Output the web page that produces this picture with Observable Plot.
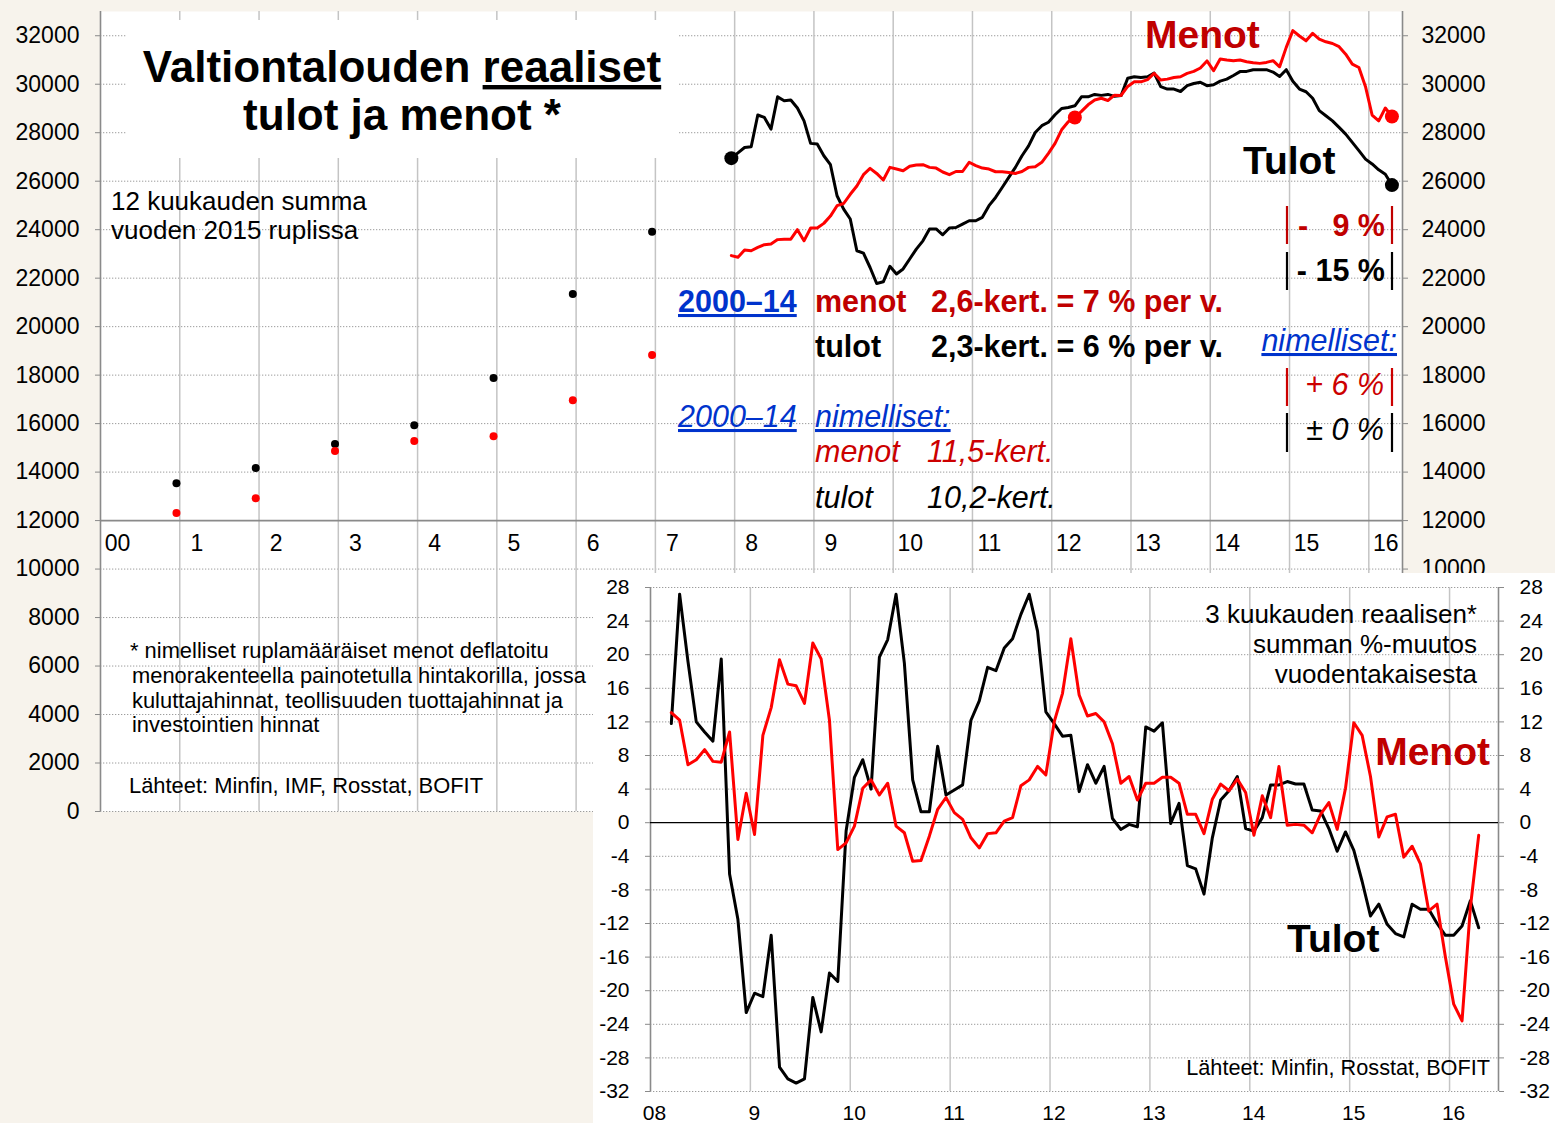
<!DOCTYPE html>
<html><head><meta charset="utf-8">
<script src="https://cdn.jsdelivr.net/npm/d3@7"></script>
<script src="https://cdn.jsdelivr.net/npm/@observablehq/plot@0.6"></script>
<style>
html,body{margin:0;padding:0;background:#F7F3EC;}
#wrap{position:relative;width:1555px;height:1123px;overflow:hidden;background:#F7F3EC;}
#main{position:absolute;left:0;top:0;}
#titlebox{position:absolute;left:127px;top:20px;width:551px;height:138px;background:#fff;}
#inset{position:absolute;left:593px;top:573px;width:962px;height:550px;background:#fff;}
#overlay{position:absolute;left:0;top:0;pointer-events:none;}
</style></head><body>
<div id="wrap"><div id="main"></div><div id="titlebox"></div><div id="inset"></div><svg id="overlay" width="1555" height="1123"></svg></div>
<script>
// ---------- DATA ----------
// Annual 12-month sums (December), 2000–2006, billions of 2015 roubles
const annualYears = [2000, 2001, 2002, 2003, 2004, 2005, 2006];
const annualTulot = [13545, 14166, 15159, 15933, 17879, 21344, 23911];
const annualMenot = [12318, 12923, 14869, 15283, 15478, 16969, 18832];

// Monthly 12-month sums, Dec 2007 .. Apr 2016
const monthlyStartYear = 2007, monthlyStartMonth = 12;
const monthlyTulot = [
  26950, 27170, 27390, 27420, 28730, 28630, 28150, 29480, 29320, 29350,
  29020, 28490, 27560, 27530, 27050, 26680, 25400, 24850, 24440, 23130,
  23030, 22440, 21780, 21850, 22490, 22170, 22380, 22790, 23200, 23540,
  24030, 24030, 23790, 24070, 24090, 24230, 24370, 24370, 24510, 24990,
  25330, 25740, 26160, 26570, 27050, 27460, 28010, 28290, 28430, 28740,
  29000, 29040, 29110, 29480, 29480, 29580, 29540, 29580, 29500, 29530,
  30250, 30310, 30280, 30310, 30460, 29900, 29800, 29800, 29700, 29940,
  30030, 30080, 29940, 29980, 30130, 30210, 30360, 30520, 30530, 30600,
  30600, 30600, 30500, 30320, 30600, 30120, 29800, 29690, 29420, 28910,
  28700, 28490, 28220, 27940, 27600, 27260, 26910, 26710, 26470, 26290,
  25840];
const monthlyMenot = [
  22930, 22860, 23160, 23130, 23270, 23380, 23410, 23590, 23610, 23610,
  24000, 23540, 24070, 24070, 24260, 24560, 24990, 25080, 25460, 25800,
  26270, 26530, 26320, 26050, 26570, 26500, 26430, 26620, 26670, 26680,
  26570, 26540, 26380, 26270, 26400, 26400, 26780, 26640, 26540, 26500,
  26390, 26390, 26360, 26320, 26400, 26570, 26600, 26780, 27150, 27560,
  28120, 28450, 28630, 28880, 29150, 29350, 29420, 29330, 29550, 29540,
  29910, 30100, 30100, 30190, 30450, 30170, 30210, 30280, 30310, 30450,
  30530, 30670, 30960, 30560, 31040, 31000, 30970, 31000, 30930, 30890,
  30860, 30900, 30970, 30720, 31520, 32210, 31990, 31790, 32100, 31860,
  31750, 31680, 31550, 31240, 30830, 30690, 29900, 28730, 28490, 29020,
  28670];
// highlighted points (indices into monthly arrays)
const tulotMarked = [0, 100];
const menotMarked = [52, 100];

// Inset: 3-month real sum, % change y/y, Mar 2008 .. Apr 2016
const changeStartYear = 2008, changeStartMonth = 3;
const changeTulot = [
  11.8, 27.2, 19.2, 12.0, 10.8, 9.7, 19.5, -6.1, -11.5, -22.6,
  -20.3, -20.7, -13.4, -29.1, -30.5, -31.0, -30.5, -20.8, -24.9, -17.9,
  -18.9, -1.0, 5.4, 7.5, 4.0, 19.7, 21.8, 27.2, 19.0, 5.1,
  1.3, 1.3, 9.1, 3.3, 3.9, 4.5, 12.2, 14.5, 18.5, 18.1,
  20.8, 21.9, 24.8, 27.2, 22.8, 13.2, 11.8, 10.3, 10.4, 3.7,
  6.9, 4.7, 6.7, 0.5, -0.8, -0.2, -0.5, 11.4, 10.9, 11.9,
  -0.1, 2.3, -5.1, -5.5, -8.5, -1.8, 2.7, 3.8, 5.5, -0.7,
  -1.0, 0.6, 4.5, 4.5, 4.9, 4.6, 4.6, 1.5, 1.4, -0.7,
  -3.4, -1.1, -3.3, -7.0, -11.1, -9.7, -12.1, -13.2, -13.6, -9.7,
  -10.3, -10.3, -12.0, -13.4, -13.4, -12.3, -9.3, -12.5];
const changeMenot = [
  13.1, 12.2, 6.9, 7.5, 8.7, 7.3, 7.2, 10.8, -2.0, 3.5,
  -1.4, 10.4, 13.7, 19.4, 16.5, 16.3, 14.2, 21.4, 19.5, 12.2,
  -3.2, -2.4, -0.4, 4.1, 5.1, 3.3, 4.7, -0.4, -1.2, -4.6,
  -4.5, -1.6, 1.6, 3.0, 1.2, 0.4, -1.8, -3.0, -1.3, -1.2,
  0.2, 0.6, 4.4, 5.1, 6.7, 5.7, 12.0, 15.4, 21.9, 15.2,
  12.7, 13.0, 12.0, 9.4, 4.7, 5.5, 2.7, 4.7, 4.7, 5.4,
  5.4, 4.7, 1.0, 1.0, -1.3, 2.8, 4.6, 3.8, 5.2, 3.6,
  -1.5, 3.2, 0.6, 6.7, -0.3, -0.2, -0.3, -1.2, 1.0, 2.4,
  -0.8, 4.1, 11.9, 10.4, 5.5, -1.7, 0.7, 1.0, -4.1, -2.8,
  -4.9, -10.5, -9.7, -16.0, -21.6, -23.6, -10.1, -1.5];

// Tick labels
const mainYears = [2000,2001,2002,2003,2004,2005,2006,2007,2008,2009,2010,2011,2012,2013,2014,2015,2016];
const mainYearLabels = ["00","1","2","3","4","5","6","7","8","9","10","11","12","13","14","15","16"];
const mainYTicksLeft = [0,2000,4000,6000,8000,10000,12000,14000,16000,18000,20000,22000,24000,26000,28000,30000,32000];
const mainYTicksRight = [10000,12000,14000,16000,18000,20000,22000,24000,26000,28000,30000,32000];
const insetYears = [2008,2009,2010,2011,2012,2013,2014,2015,2016];
const insetYearLabels = ["08","9","10","11","12","13","14","15","16"];
const insetYTicks = [-32,-28,-24,-20,-16,-12,-8,-4,0,4,8,12,16,20,24,28];

// ---------- BUILD ----------
const FONT = '"Liberation Sans", Arial, Helvetica, sans-serif';
const RED = "#FF0000", DARKRED = "#C00000", BLUE = "#0033CC";
const GRIDV = "#C4C4C4", GRIDH = "#9C9C9C", AXIS = "#8A8A8A";

const monthT = (y0, m0, i) => y0 + (m0 - 0.5 + i) / 12;
const annualT = y => y + 11.5 / 12;

const tulotSeries = monthlyTulot.map((v, i) => ({t: monthT(monthlyStartYear, monthlyStartMonth, i), v}));
const menotSeries = monthlyMenot.map((v, i) => ({t: monthT(monthlyStartYear, monthlyStartMonth, i), v}));
const annualT_ = annualYears.map((y, i) => ({t: annualT(y), v: annualTulot[i]}));
const annualM_ = annualYears.map((y, i) => ({t: annualT(y), v: annualMenot[i]}));
const mainXLab = mainYears.map((y, i) => ({t: y, label: mainYearLabels[i], v: 12000}));
const X_END_MAIN = 2016.425;

const main = Plot.plot({
  width: 1555, height: 830,
  marginLeft: 100, marginRight: 153, marginTop: 11, marginBottom: 19,
  x: {domain: [2000, X_END_MAIN], axis: null},
  y: {domain: [0, 33000], axis: null},
  style: {fontFamily: FONT, fontSize: "23px", background: "transparent", color: "black", overflow: "visible"},
  marks: [
    Plot.frame({fill: "white", stroke: "none"}),
    Plot.ruleY(mainYTicksLeft.filter(d => d !== 12000), {stroke: GRIDH, strokeWidth: 1, strokeDasharray: "1.3,1.7"}),
    Plot.ruleX(mainYears.slice(1), {stroke: GRIDV, strokeWidth: 1.5}),
    Plot.ruleY([12000], {stroke: AXIS, strokeWidth: 1.6}),
    Plot.ruleX([2000, X_END_MAIN], {stroke: AXIS, strokeWidth: 1.6}),
    Plot.axisY({anchor: "left", label: null, ticks: mainYTicksLeft, tickSize: 5, tickPadding: 16, tickFormat: d => String(d), stroke: AXIS, fontSize: 23}),
    Plot.axisY({anchor: "right", label: null, ticks: mainYTicksRight, tickSize: 5, tickPadding: 14, tickFormat: d => String(d), stroke: AXIS, fontSize: 23}),
    Plot.text(mainXLab, {x: "t", y: "v", text: "label", dx: 17, dy: 30, lineAnchor: "bottom", fontSize: 23, fill: "black"}),
    Plot.dot(annualT_, {x: "t", y: "v", r: 4, fill: "black"}),
    Plot.dot(annualM_, {x: "t", y: "v", r: 4, fill: RED}),
    Plot.line(tulotSeries, {x: "t", y: "v", stroke: "black", strokeWidth: 3, strokeLinejoin: "round"}),
    Plot.line(menotSeries, {x: "t", y: "v", stroke: RED, strokeWidth: 3, strokeLinejoin: "round"}),
    Plot.dot(tulotMarked.map(i => tulotSeries[i]), {x: "t", y: "v", r: 7, fill: "black"}),
    Plot.dot(menotMarked.map(i => menotSeries[i]), {x: "t", y: "v", r: 7, fill: RED})
  ]
});
document.getElementById("main").appendChild(main);

const chT = changeTulot.map((v, i) => ({t: monthT(changeStartYear, changeStartMonth, i), v}));
const chM = changeMenot.map((v, i) => ({t: monthT(changeStartYear, changeStartMonth, i), v}));
const X_END_INSET = 2016.49;

const inset = Plot.plot({
  width: 962, height: 550,
  marginLeft: 57, marginRight: 57, marginTop: 14, marginBottom: 32,
  x: {domain: [2008, X_END_INSET], axis: null},
  y: {domain: [-32, 28], axis: null},
  style: {fontFamily: FONT, fontSize: "21px", background: "white", color: "black", overflow: "visible"},
  marks: [
    Plot.ruleY(insetYTicks.filter(d => d !== 0), {stroke: GRIDH, strokeWidth: 1, strokeDasharray: "1.3,1.7"}),
    Plot.ruleX(insetYears.slice(1), {stroke: GRIDV, strokeWidth: 1.5}),
    Plot.ruleX([2008, X_END_INSET], {stroke: AXIS, strokeWidth: 1.6}),
    Plot.ruleY([0], {stroke: "black", strokeWidth: 1.3}),
    Plot.axisY({anchor: "left", label: null, ticks: insetYTicks, tickSize: 5, tickPadding: 16, tickFormat: d => String(d), stroke: AXIS, fontSize: 21}),
    Plot.axisY({anchor: "right", label: null, ticks: insetYTicks, tickSize: 5, tickPadding: 16, tickFormat: d => String(d), stroke: AXIS, fontSize: 21}),
    Plot.axisX({anchor: "bottom", label: null, ticks: insetYears, tickSize: 0, tickPadding: 14, dx: 4,
      tickFormat: d => insetYearLabels[insetYears.indexOf(d)], fontSize: 21}),
    Plot.line(chT, {x: "t", y: "v", stroke: "black", strokeWidth: 3, strokeLinejoin: "round"}),
    Plot.line(chM, {x: "t", y: "v", stroke: RED, strokeWidth: 3, strokeLinejoin: "round"})
  ]
});
document.getElementById("inset").appendChild(inset);

// ---------- ANNOTATIONS ----------
const ov = d3.select("#overlay");
function txt(x, y, parts, o = {}) {
  const t = ov.append("text").attr("x", x).attr("y", y)
    .attr("font-family", FONT).attr("font-size", o.size || 22)
    .attr("font-weight", o.weight || "normal").attr("font-style", o.style || "normal")
    .attr("fill", o.fill || "black").attr("text-anchor", o.anchor || "start")
    .style("white-space", "pre");
  const list = Array.isArray(parts) ? parts : [[parts, {underline: o.underline}]];
  for (const p of list) {
    const s = t.append("tspan").text(p[0]);
    const po = p[1] || {};
    if (po.fill) s.attr("fill", po.fill);
    if (po.underline) s.attr("text-decoration", "underline");
  }
  return t;
}
function bar(x, y1, y2, color) {
  ov.append("line").attr("x1", x).attr("x2", x).attr("y1", y1).attr("y2", y2)
    .attr("stroke", color).attr("stroke-width", 2.2);
}

// title
txt(402, 82, [["Valtiontalouden "], ["reaaliset", {underline: true}]], {size: 44, weight: "bold", anchor: "middle"});
txt(402, 130, "tulot ja menot *", {size: 44, weight: "bold", anchor: "middle"});
txt(111, 210, "12 kuukauden summa", {size: 26});
txt(111, 239, "vuoden 2015 ruplissa", {size: 26});

// real growth block
txt(678, 312, "2000–14", {size: 30.5, weight: "bold", fill: BLUE, underline: true});
txt(815, 312, "menot", {size: 30.5, weight: "bold", fill: DARKRED});
txt(931, 312, "2,6-kert. = 7 % per v.", {size: 30.5, weight: "bold", fill: DARKRED});
txt(815, 357, "tulot", {size: 30.5, weight: "bold"});
txt(931, 357, "2,3-kert. = 6 % per v.", {size: 30.5, weight: "bold"});

// nominal block
txt(678, 427, "2000–14", {size: 30.5, style: "italic", fill: BLUE, underline: true});
txt(815, 427, "nimelliset:", {size: 30.5, style: "italic", fill: BLUE, underline: true});
txt(815, 462, "menot", {size: 30.5, style: "italic", fill: "#CC0000"});
txt(927, 462, "11,5-kert.", {size: 30.5, style: "italic", fill: "#CC0000"});
txt(815, 508, "tulot", {size: 30.5, style: "italic"});
txt(927, 508, "10,2-kert.", {size: 30.5, style: "italic"});

// series labels main
txt(1145, 48, "Menot", {size: 39, weight: "bold", fill: DARKRED});
txt(1243, 174, "Tulot", {size: 39, weight: "bold"});

// right-side changes
bar(1287, 206, 244, DARKRED); bar(1392, 206, 244, DARKRED);
txt(1298, 236, "-", {size: 30.5, weight: "bold", fill: DARKRED});
txt(1385, 236, "9 %", {size: 30.5, weight: "bold", fill: DARKRED, anchor: "end"});
bar(1287, 252, 290, "black"); bar(1392, 252, 290, "black");
txt(1385, 281, "- 15 %", {size: 30.5, weight: "bold", anchor: "end"});
txt(1397, 351, "nimelliset:", {size: 30.5, style: "italic", fill: BLUE, underline: true, anchor: "end"});
bar(1287, 368, 406, "#CC0000"); bar(1392, 368, 406, "#CC0000");
txt(1384, 395, "+ 6 %", {size: 30.5, style: "italic", fill: "#CC0000", anchor: "end"});
bar(1287, 413, 452, "black"); bar(1392, 413, 452, "black");
txt(1384, 440, "± 0 %", {size: 30.5, style: "italic", anchor: "end"});

// footnote
txt(130, 658, "* nimelliset ruplamääräiset menot deflatoitu", {size: 21.9});
txt(132, 683, "menorakenteella painotetulla hintakorilla, jossa", {size: 21.9});
txt(132, 708, "kuluttajahinnat, teollisuuden tuottajahinnat ja", {size: 21.9});
txt(132, 732, "investointien hinnat", {size: 21.9});
txt(129, 793, "Lähteet: Minfin, IMF, Rosstat, BOFIT", {size: 21.9});

// inset annotations
txt(1477, 623, "3 kuukauden reaalisen*", {size: 26, anchor: "end"});
txt(1477, 653, "summan %-muutos", {size: 26, anchor: "end"});
txt(1477, 683, "vuodentakaisesta", {size: 26, anchor: "end"});
txt(1490, 765, "Menot", {size: 39, weight: "bold", fill: DARKRED, anchor: "end"});
txt(1287, 952, "Tulot", {size: 39, weight: "bold"});
txt(1490, 1075, "Lähteet: Minfin, Rosstat, BOFIT", {size: 21.7, anchor: "end"});
</script>
</body></html>
